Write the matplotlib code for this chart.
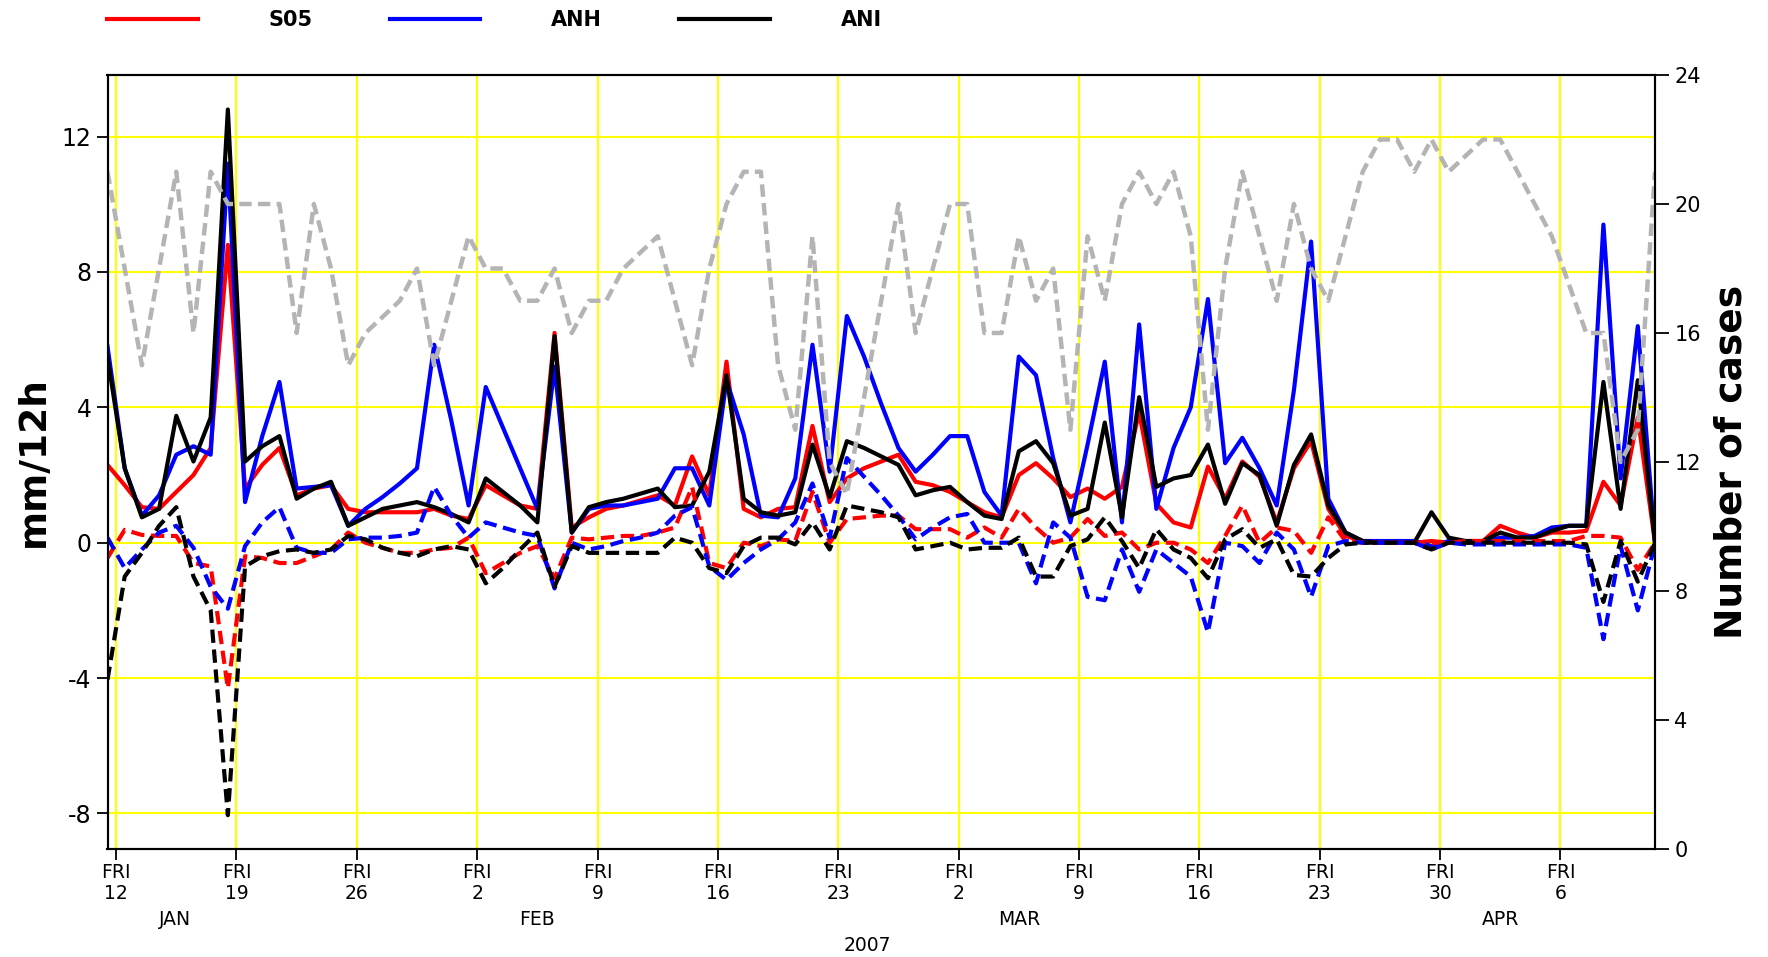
"""Precipitation error time series (S05 / ANH / ANI) with number of cases, Jan-Apr 2007."""
import matplotlib
matplotlib.use("Agg")
import matplotlib.pyplot as plt
import pandas as pd

plt.rcParams["font.family"] = ["DejaVu Sans"]

# daily samples at 12 UTC, 2007-01-11 12:00 .. 2007-04-11 12:00
dates = pd.date_range("2007-01-11 12:00", periods=91, freq="D")

# solid lines (mm/12h)
s05 = [2.3, 1.7, 1.05, 1.0, 1.5, 2.0, 2.8, 8.8, 1.6, 2.3,
       2.8, 1.4, 1.6, 1.7, 1.0, 0.9, 0.9, 0.9, 0.9, 1.0,
       0.8, 0.7, 1.7, 1.4, 1.1, 1.0, 6.2, 0.45, 0.75, 1.0,
       1.1, 1.25, 1.4, 1.1, 2.55, 1.4, 5.35, 1.0, 0.75, 1.0,
       1.05, 3.45, 1.2, 1.9, 2.2, 2.4, 2.6, 1.8, 1.7, 1.5,
       1.2, 0.9, 0.75, 2.0, 2.35, 1.9, 1.35, 1.6, 1.3, 1.65,
       3.85, 1.15, 0.6, 0.45, 2.25, 1.3, 2.4, 1.95, 0.6, 2.2,
       3.0, 1.0, 0.2, 0.05, 0.0, 0.0, 0.0, 0.05, 0.0, 0.05,
       0.05, 0.5, 0.3, 0.15, 0.3, 0.3, 0.35, 1.8, 1.1, 3.7,
       0.0]
anh = [5.8, 2.2, 0.8, 1.4, 2.6, 2.85, 2.6, 11.2, 1.2, 3.15,
       4.75, 1.6, 1.65, 1.7, 0.5, 1.0, 1.35, 1.75, 2.2, 5.85,
       3.6, 1.1, 4.6, 3.4, 2.2, 1.0, 5.2, 0.3, 1.0, 1.1,
       1.1, 1.2, 1.3, 2.2, 2.2, 1.1, 4.8, 3.2, 0.8, 0.75,
       1.9, 5.85, 2.1, 6.7, 5.5, 4.1, 2.8, 2.1, 2.6, 3.15,
       3.15, 1.5, 0.8, 5.5, 4.95, 2.5, 0.6, 2.9, 5.35, 0.6,
       6.45, 1.0, 2.8, 4.0, 7.2, 2.35, 3.1, 2.2, 1.1, 4.5,
       8.9, 1.3, 0.3, 0.05, 0.05, 0.05, 0.05, -0.1, 0.05, 0.0,
       0.0, 0.15, 0.15, 0.2, 0.45, 0.5, 0.5, 9.4, 1.9, 6.4,
       0.0]
ani = [5.5, 2.2, 0.75, 1.0, 3.75, 2.4, 3.7, 12.8, 2.4, 2.85,
       3.15, 1.3, 1.6, 1.8, 0.5, 0.75, 1.0, 1.1, 1.2, 1.05,
       0.85, 0.6, 1.9, 1.5, 1.1, 0.6, 6.1, 0.3, 1.05, 1.2,
       1.3, 1.45, 1.6, 1.05, 1.1, 2.1, 4.95, 1.3, 0.9, 0.8,
       0.9, 2.9, 1.35, 3.0, 2.8, 2.55, 2.3, 1.4, 1.55, 1.65,
       1.2, 0.8, 0.7, 2.7, 3.0, 2.35, 0.8, 1.0, 3.55, 0.75,
       4.3, 1.65, 1.9, 2.0, 2.9, 1.15, 2.35, 2.0, 0.5, 2.3,
       3.2, 1.1, 0.3, 0.05, 0.0, 0.0, 0.0, 0.9, 0.15, 0.05,
       0.05, 0.3, 0.15, 0.15, 0.35, 0.5, 0.5, 4.75, 1.0, 4.8,
       0.0]

# dashed lines (mm/12h)
s05_d = [-0.45, 0.38, 0.23, 0.2, 0.2, -0.6, -0.7, -4.3, -0.4, -0.45,
         -0.6, -0.6, -0.4, -0.2, 0.3, 0.0, -0.15, -0.3, -0.3, -0.2,
         -0.15, 0.15, -0.9, -0.6, -0.3, -0.1, -1.05, 0.15, 0.1, 0.15,
         0.2, 0.2, 0.3, 0.45, 1.65, -0.6, -0.75, 0.0, -0.1, 0.1,
         0.05, 1.5, 0.0, 0.7, 0.75, 0.8, 0.8, 0.4, 0.4, 0.4,
         0.15, 0.45, 0.15, 1.0, 0.45, 0.0, 0.15, 0.7, 0.2, 0.3,
         -0.2, 0.0, 0.0, -0.2, -0.6, 0.2, 1.1, 0.0, 0.45, 0.35,
         -0.3, 0.75, 0.05, 0.0, 0.0, 0.0, 0.0, 0.0, 0.0, 0.05,
         0.05, 0.05, 0.05, 0.05, 0.05, 0.05, 0.2, 0.2, 0.15, -0.8,
         0.0]
anh_d = [0.15, -0.75, -0.2, 0.3, 0.5, -0.15, -1.3, -1.95, -0.1, 0.6,
         1.05, -0.15, -0.3, -0.3, 0.1, 0.15, 0.15, 0.2, 0.3, 1.65,
         0.8, 0.15, 0.6, 0.45, 0.3, 0.2, -1.35, 0.0, -0.2, -0.1,
         0.05, 0.15, 0.3, 0.8, 1.05, -0.7, -1.1, -0.6, -0.2, 0.1,
         0.6, 1.75, 0.15, 2.5, 1.95, 1.4, 0.8, 0.1, 0.45, 0.75,
         0.85, 0.0, 0.0, 0.0, -1.2, 0.6, 0.15, -1.6, -1.7, -0.2,
         -1.45, -0.2, -0.6, -1.0, -2.65, 0.0, -0.1, -0.6, 0.3, -0.2,
         -1.6, -0.1, 0.05, 0.0, 0.0, 0.0, 0.0, -0.2, 0.0, -0.05,
         -0.05, -0.05, -0.05, -0.05, -0.05, -0.05, -0.15, -2.85, -0.1, -2.0,
         -0.05]
ani_d = [-4.05, -1.0, -0.3, 0.5, 1.05, -1.0, -2.0, -8.05, -0.7, -0.4,
         -0.25, -0.2, -0.3, -0.2, 0.2, 0.1, -0.15, -0.3, -0.4, -0.2,
         -0.1, -0.2, -1.2, -0.75, -0.2, 0.3, -1.3, -0.1, -0.3, -0.3,
         -0.3, -0.3, -0.3, 0.15, 0.0, -0.75, -0.9, -0.1, 0.15, 0.15,
         -0.05, 0.6, -0.2, 1.1, 1.0, 0.9, 0.75, -0.2, -0.1, 0.0,
         -0.2, -0.15, -0.15, 0.15, -1.0, -1.0, -0.1, 0.1, 0.75, 0.05,
         -0.75, 0.4, -0.2, -0.45, -1.05, 0.1, 0.4, -0.15, 0.1, -0.95,
         -1.0, -0.45, -0.05, 0.0, 0.0, 0.0, 0.0, -0.2, 0.0, 0.0,
         0.0, 0.0, 0.0, 0.0, 0.0, 0.0, -0.05, -1.75, 0.05, -1.15,
         0.0]

# number of cases (right axis)
cases = [21, 18, 15, 18, 21, 16, 21, 20, 20, 20,
         20, 16, 20, 18, 15, 16, 16.5, 17, 18, 15,
         17, 19, 18, 18, 17, 17, 18, 16, 17, 17,
         18, 18.5, 19, 17, 15, 18, 20, 21, 21, 15,
         13, 19, 12, 11, 14, 17, 20, 16, 18, 20,
         20, 16, 16, 19, 17, 18, 13, 19, 17, 20,
         21, 20, 21, 19, 13, 18, 21, 19, 17, 20,
         18, 17, 19, 21, 22, 22, 21, 22, 21, 21.5,
         22, 22, 21, 20, 19, 17.5, 16, 16, 12, 13,
         21]

fridays = pd.date_range("2007-01-12", "2007-04-06", freq="7D")
month_names = ["JAN", "FEB", "MAR", "APR"]
month_pos = pd.to_datetime(["2007-01-15 10:00", "2007-02-05 12:00",
                            "2007-03-05 12:00", "2007-04-02 12:00"])
year_pos = pd.Timestamp("2007-02-24 17:00")

fig = plt.figure(figsize=(17.68, 9.57), dpi=100)
ax = fig.add_axes([107.5 / 1768, 1 - 849 / 957, (1655 - 107.5) / 1768, (849 - 75) / 957])
ax2 = ax.twinx()

lw = 3.0
dash = (0, (3.2, 1.6))
l1, = ax.plot(dates, s05, color="#ff0000", lw=lw)
l2, = ax.plot(dates, anh, color="#0000ff", lw=lw)
l3, = ax.plot(dates, ani, color="black", lw=lw)
ax.plot(dates, s05_d, color="#ff0000", lw=lw, ls=dash)
ax.plot(dates, anh_d, color="#0000ff", lw=lw, ls=dash)
ax.plot(dates, ani_d, color="black", lw=lw, ls=dash)
ax2.plot(dates, cases, color="#b4b4b4", lw=3.2, ls=(0, (2.8, 1.4)))

ax.set_xlim(dates[0], dates[-1])
ax.set_ylim(-9.05, 13.82)
ax2.set_ylim(0, 24)
ax.set_yticks([-8, -4, 0, 4, 8, 12])
ax.set_yticklabels(["-8", "-4", "0", "4", "8", "12"])
ax2.set_yticks(range(0, 25, 4))
ax.set_xticks(fridays)
ax.set_xticklabels([f"FRI\n{d.day}" for d in fridays], linespacing=1.15)

ax.grid(True, color="#ffff00", lw=1.5)
ax.set_axisbelow(True)
ax.tick_params(axis="y", labelsize=17, length=8, width=1.3, direction="out")
ax.tick_params(axis="x", labelsize=13.5, length=8, width=1.3, direction="out", pad=2)
ax2.tick_params(axis="y", labelsize=15, length=10, width=1.3, direction="out", pad=4)
for sp in list(ax.spines.values()) + list(ax2.spines.values()):
    sp.set_linewidth(1.5)

ax.set_ylabel("mm/12h", fontsize=27, fontweight="bold")
ax.yaxis.set_label_coords(-0.036, 0.5)
ax2.set_ylabel("Number of cases", fontsize=27, fontweight="bold")
ax2.yaxis.set_label_coords(1.038, 0.5)

for name, pos in zip(month_names, month_pos):
    ax.text(pos, -0.0916, name, transform=ax.get_xaxis_transform(),
            ha="center", va="center", fontsize=13.5)
ax.text(year_pos, -0.1245, "2007", transform=ax.get_xaxis_transform(),
        ha="center", va="center", fontsize=13.5)

fig.legend([l1, l2, l3], ["S05", "ANH", "ANI"], ncol=3, frameon=False,
           loc="center left", bbox_to_anchor=(107 / 1768, 1 - 20 / 957),
           borderpad=0, borderaxespad=0, handlelength=4.35, handletextpad=3.4,
           columnspacing=3.7, prop={"weight": "bold", "size": 15})

fig.savefig("out.png", dpi=100)
